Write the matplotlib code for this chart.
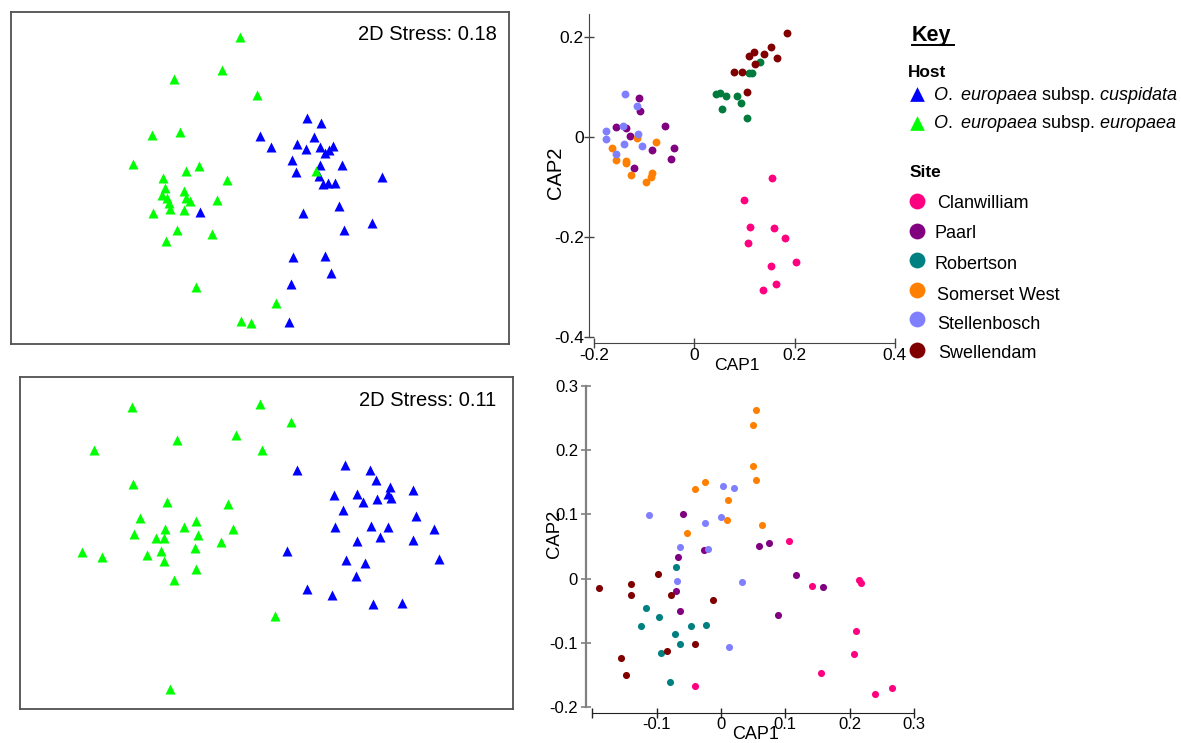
import matplotlib
matplotlib.use('Agg')
import matplotlib.pyplot as plt
from matplotlib.ticker import FuncFormatter

plt.rcParams['font.family'] = ['Liberation Sans', 'DejaVu Sans']
plt.rcParams['mathtext.fontset'] = 'custom'
plt.rcParams['mathtext.rm'] = 'Liberation Sans'
plt.rcParams['mathtext.it'] = 'Liberation Sans:italic'

# ---- nMDS, dataset 1 (host) ----
nmds1_cusp_x = [0.284, 0.368, 0.002, 0.326, 0.066, 0.222, 0.276, 0.362, 0.440, 0.416,
                0.390, 0.194, 0.360, 0.496, 0.220, 0.354, 0.736, 0.380, 0.410, 0.454,
                0.478, 0.262, -0.360, 0.674, 0.504, 0.198, 0.392, 0.430, 0.190, 0.178]
nmds1_cusp_y = [0.360, 0.330, 0.254, 0.248, 0.184, 0.204, 0.172, 0.188, 0.192, 0.166,
                0.148, 0.108, 0.076, 0.076, 0.036, 0.010, 0.004, -0.036, -0.030, -0.030,
                -0.166, -0.210, -0.200, -0.270, -0.308, -0.474, -0.468, -0.566, -0.636, -0.862]
nmds1_euro_x = [-0.122, -0.230, -0.518, -0.018, -0.650, -0.480, -0.764, -0.366, -0.442, -0.198,
                -0.584, -0.570, -0.458, -0.590, -0.560, -0.544, -0.446, -0.418, -0.256, -0.542,
                -0.454, -0.642, -0.496, -0.286, -0.562, -0.384, 0.100, -0.112, -0.052, 0.336]
nmds1_euro_y = [0.844, 0.648, 0.596, 0.498, 0.258, 0.274, 0.084, 0.070, 0.042, -0.010,
                0.002, -0.056, -0.074, -0.100, -0.120, -0.146, -0.116, -0.134, -0.128, -0.184,
                -0.188, -0.210, -0.310, -0.334, -0.374, -0.650, -0.748, -0.856, -0.866, 0.040]
nmds1_stress = 0.18

# ---- nMDS, dataset 2 (host) ----
nmds2_cusp_x = [0.474, 0.184, 0.624, 0.660, 0.740, 0.880, 0.408, 0.542, 0.732, 0.582,
                0.666, 0.748, 0.462, 0.898, 0.410, 0.630, 0.732, 1.008, 0.682, 0.544,
                0.878, 0.124, 1.034, 0.480, 0.594, 0.538, 0.242, 0.396, 0.642, 0.812]
nmds2_cusp_y = [0.466, 0.440, 0.438, 0.376, 0.336, 0.316, 0.290, 0.296, 0.292, 0.244,
                0.262, 0.268, 0.196, 0.164, 0.094, 0.104, 0.094, 0.084, 0.036, 0.012,
                0.020, -0.048, -0.096, -0.106, -0.122, -0.202, -0.276, -0.314, -0.368, -0.360]
nmds2_euro_x = [-0.806, -0.042, 0.150, -0.536, -0.184, -1.034, -0.026, -0.802, -0.600, -0.232,
                -0.762, -0.612, -0.494, -0.424, -0.202, -0.796, -0.666, -0.616, -0.412, -0.272,
                -1.108, -0.986, -0.720, -0.636, -0.428, -0.618, -0.422, -0.556, 0.052, -0.580]
nmds2_euro_y = [0.816, 0.834, 0.726, 0.618, 0.648, 0.558, 0.560, 0.352, 0.244, 0.234,
                0.150, 0.084, 0.098, 0.130, 0.084, 0.052, 0.030, 0.030, 0.046, 0.004,
                -0.058, -0.088, -0.076, -0.050, -0.034, -0.110, -0.160, -0.222, -0.438, -0.880]
nmds2_stress = 0.11

# ---- CAP, dataset 1 (site) ----
cap1_clanwilliam_x = [0.155, 0.099, 0.110, 0.159, 0.180, 0.107, 0.152, 0.203, 0.163, 0.137]
cap1_clanwilliam_y = [-0.083, -0.127, -0.181, -0.182, -0.202, -0.212, -0.258, -0.251, -0.294, -0.307]
cap1_paarl_x = [-0.111, -0.109, -0.156, -0.136, -0.128, -0.059, -0.041, -0.085, -0.046, -0.120]
cap1_paarl_y = [0.078, 0.052, 0.020, 0.017, 0.001, 0.021, -0.022, -0.026, -0.045, -0.063]
cap1_robertson_x = [0.043, 0.051, 0.064, 0.056, 0.086, 0.093, 0.105, 0.131, 0.109, 0.114]
cap1_robertson_y = [0.085, 0.088, 0.082, 0.055, 0.082, 0.067, 0.037, 0.150, 0.127, 0.127]
cap1_somerset_x = [-0.164, -0.157, -0.137, -0.136, -0.115, -0.077, -0.126, -0.084, -0.086, -0.096]
cap1_somerset_y = [-0.022, -0.046, -0.049, -0.053, -0.002, -0.010, -0.076, -0.073, -0.081, -0.091]
cap1_stellenbosch_x = [-0.138, -0.114, -0.177, -0.177, -0.143, -0.141, -0.113, -0.104, -0.157]
cap1_stellenbosch_y = [0.085, 0.062, 0.011, -0.004, 0.021, -0.015, 0.005, -0.019, -0.034]
cap1_swellendam_x = [0.185, 0.153, 0.138, 0.119, 0.109, 0.164, 0.120, 0.079, 0.095, 0.105]
cap1_swellendam_y = [0.207, 0.180, 0.165, 0.170, 0.161, 0.157, 0.145, 0.130, 0.129, 0.089]

# ---- CAP, dataset 2 (site) ----
cap2_clanwilliam_x = [0.106, 0.141, 0.215, 0.217, 0.210, 0.206, 0.156, 0.240, 0.266, -0.041]
cap2_clanwilliam_y = [0.059, -0.012, -0.002, -0.006, -0.081, -0.117, -0.146, -0.180, -0.170, -0.167]
cap2_paarl_x = [-0.059, -0.026, 0.059, 0.075, -0.067, 0.117, 0.158, -0.070, -0.064, 0.088]
cap2_paarl_y = [0.100, 0.045, 0.051, 0.056, 0.034, 0.005, -0.013, -0.019, -0.050, -0.056]
cap2_robertson_x = [-0.070, -0.116, -0.096, -0.124, -0.047, -0.024, -0.072, -0.064, -0.094, -0.079]
cap2_robertson_y = [0.018, -0.045, -0.060, -0.073, -0.074, -0.072, -0.086, -0.101, -0.115, -0.161]
cap2_somerset_x = [0.054, 0.049, 0.049, 0.055, -0.025, -0.041, 0.011, 0.009, 0.063, -0.053]
cap2_somerset_y = [0.262, 0.239, 0.175, 0.154, 0.151, 0.139, 0.122, 0.091, 0.084, 0.071]
cap2_stellenbosch_x = [0.003, 0.021, -0.112, 0.000, -0.025, -0.020, -0.064, -0.068, 0.033, 0.012]
cap2_stellenbosch_y = [0.144, 0.141, 0.099, 0.096, 0.087, 0.046, 0.050, -0.003, -0.005, -0.106]
cap2_swellendam_x = [-0.098, -0.189, -0.140, -0.140, -0.078, -0.013, -0.040, -0.084, -0.155, -0.148]
cap2_swellendam_y = [0.007, -0.015, -0.009, -0.026, -0.026, -0.033, -0.102, -0.113, -0.123, -0.150]

sites = ['Clanwilliam', 'Paarl', 'Robertson', 'Somerset West', 'Stellenbosch', 'Swellendam']
site_colours = ['#FF0080', '#800080', '#008080', '#FF8000', '#8080FF', '#800000']
robertson_colour_cap1 = '#007A3D'

hosts = ['cuspidata', 'europaea']
host_colours = ['#0000FF', '#00FF00']

cap1_sites = [(cap1_clanwilliam_x, cap1_clanwilliam_y), (cap1_paarl_x, cap1_paarl_y),
              (cap1_robertson_x, cap1_robertson_y), (cap1_somerset_x, cap1_somerset_y),
              (cap1_stellenbosch_x, cap1_stellenbosch_y), (cap1_swellendam_x, cap1_swellendam_y)]
cap2_sites = [(cap2_clanwilliam_x, cap2_clanwilliam_y), (cap2_paarl_x, cap2_paarl_y),
              (cap2_robertson_x, cap2_robertson_y), (cap2_somerset_x, cap2_somerset_y),
              (cap2_stellenbosch_x, cap2_stellenbosch_y), (cap2_swellendam_x, cap2_swellendam_y)]

W, H = 1181, 743
fig = plt.figure(figsize=(W / 100, H / 100), dpi=100)


def px_axes(x0, y0, x1, y1):
    # axes from pixel box (top-left origin)
    return fig.add_axes([x0 / W, 1 - y1 / H, (x1 - x0) / W, (y1 - y0) / H])


def nmds_panel(ax, cusp, euro, stress, xlim, ylim, tx, ty):
    ax.scatter(cusp[0], cusp[1], marker='^', s=52, c=host_colours[0], linewidths=0)
    ax.scatter(euro[0], euro[1], marker='^', s=52, c=host_colours[1], linewidths=0)
    ax.set_xlim(*xlim)
    ax.set_ylim(*ylim)
    ax.set_xticks([])
    ax.set_yticks([])
    for sp in ax.spines.values():
        sp.set_color('#505050')
        sp.set_linewidth(1.3)
    ax.text(tx, ty, '2D Stress: %.2f' % stress, transform=ax.transAxes,
            ha='right', va='baseline', fontsize=14.5)


def tick_fmt(v, pos):
    if abs(v) < 1e-9:
        return '0'
    return '%g' % round(v, 3)


# nMDS panels
ax_a = px_axes(11, 12, 509, 344)
nmds_panel(ax_a, (nmds1_cusp_x, nmds1_cusp_y), (nmds1_euro_x, nmds1_euro_y), nmds1_stress,
           (-1.494, 1.496), (-0.994, 0.996), 0.975, 0.9157)

ax_c = px_axes(20, 377, 513, 709)
nmds_panel(ax_c, (nmds2_cusp_x, nmds2_cusp_y), (nmds2_euro_x, nmds2_euro_y), nmds2_stress,
           (-1.48, 1.48), (-0.998, 0.996), 0.967, 0.9127)

# CAP panel, dataset 1
ax_b = px_axes(594.3, 14, 894.7, 337)
for i, (xs, ys) in enumerate(cap1_sites):
    col = robertson_colour_cap1 if sites[i] == 'Robertson' else site_colours[i]
    ax_b.scatter(xs, ys, s=32, c=col, linewidths=0, zorder=3)
ax_b.set_xlim(-0.2, 0.4)
ax_b.set_ylim(-0.4, 0.246)
ax_b.set_xticks([-0.2, 0, 0.2, 0.4])
ax_b.set_yticks([-0.4, -0.2, 0, 0.2])
ax_b.xaxis.set_major_formatter(FuncFormatter(tick_fmt))
ax_b.yaxis.set_major_formatter(FuncFormatter(tick_fmt))
ax_b.spines['top'].set_visible(False)
ax_b.spines['right'].set_visible(False)
ax_b.spines['left'].set_position(('outward', 4))
ax_b.spines['bottom'].set_position(('outward', 4.5))
ax_b.spines['left'].set_color('#444444')
ax_b.spines['bottom'].set_color('#444444')
ax_b.tick_params(axis='both', direction='inout', length=7, width=1, color='#444444',
                 labelsize=12.5, pad=0)
ax_b.text(-0.13, 0.508, 'CAP2', transform=ax_b.transAxes, rotation=90,
          ha='center', va='center', fontsize=14.5)
ax_b.text(0.476, -0.087, 'CAP1', transform=ax_b.transAxes,
          ha='center', va='center', fontsize=12.6)

# CAP panel, dataset 2
ax_d = px_axes(592.3, 385.7, 914, 707.3)
for i, (xs, ys) in enumerate(cap2_sites):
    ax_d.scatter(xs, ys, s=26, c=site_colours[i], linewidths=0, zorder=3)
ax_d.set_xlim(-0.2, 0.3)
ax_d.set_ylim(-0.2, 0.3)
ax_d.set_xticks([-0.2, -0.1, 0, 0.1, 0.2, 0.3])
ax_d.set_xticklabels(['', '-0.1', '0', '0.1', '0.2', '0.3'])
ax_d.set_yticks([-0.2, -0.1, 0, 0.1, 0.2, 0.3])
ax_d.yaxis.set_major_formatter(FuncFormatter(tick_fmt))
ax_d.spines['top'].set_visible(False)
ax_d.spines['right'].set_visible(False)
ax_d.spines['left'].set_position(('outward', 4.75))
ax_d.spines['bottom'].set_position(('outward', 4.3))
ax_d.spines['left'].set_color('#808080')
ax_d.spines['left'].set_linewidth(1.6)
ax_d.spines['bottom'].set_color('#222222')
ax_d.tick_params(axis='y', direction='inout', length=7, width=1.2, color='#808080',
                 labelsize=12, pad=2)
ax_d.tick_params(axis='x', direction='inout', length=7, width=1, color='#222222',
                 labelsize=12, pad=-1)
ax_d.text(-0.116, 0.539, 'CAP2', transform=ax_d.transAxes, rotation=90,
          ha='center', va='center', fontsize=13.3)
ax_d.text(0.506, -0.086, 'CAP1', transform=ax_d.transAxes,
          ha='center', va='center', fontsize=13)

# Key
key = fig.add_axes([0, 0, 1, 1], facecolor='none')
key.set_xlim(0, W)
key.set_ylim(H, 0)
key.axis('off')

key.text(911.7, 41.5, 'Key', fontsize=15.5, fontweight='bold', va='baseline')
key.plot([912, 954], [44.5, 44.5], color='black', lw=1.4)

key.text(908.3, 76.7, 'Host', fontsize=12.4, fontweight='bold', va='baseline')
host_y = [93.7, 122.5]
host_text_y = [100, 128.3]
for i, h in enumerate(hosts):
    key.scatter([916.7], [host_y[i]], marker='^', s=112, c=host_colours[i], linewidths=0)
    key.text(933.3, host_text_y[i],
             r'$\mathit{O.}$ $\mathit{europaea}$ subsp. $\mathit{%s}$' % h,
             fontsize=13, va='baseline')

key.text(910, 176.7, 'Site', fontsize=12.4, fontweight='bold', va='baseline')
site_y = [201, 231, 260.3, 290, 319, 350]
site_text_x = [936.7, 935, 935, 937.3, 937.3, 938.3]
site_text_y = [208.3, 238.3, 269.3, 300, 329.3, 358.3]
for i, name in enumerate(sites):
    key.scatter([917.3], [site_y[i]], s=130, c=site_colours[i], linewidths=0)
    key.text(site_text_x[i], site_text_y[i], name, fontsize=13, va='baseline')

fig.savefig('out.png', dpi=100, facecolor='white')
